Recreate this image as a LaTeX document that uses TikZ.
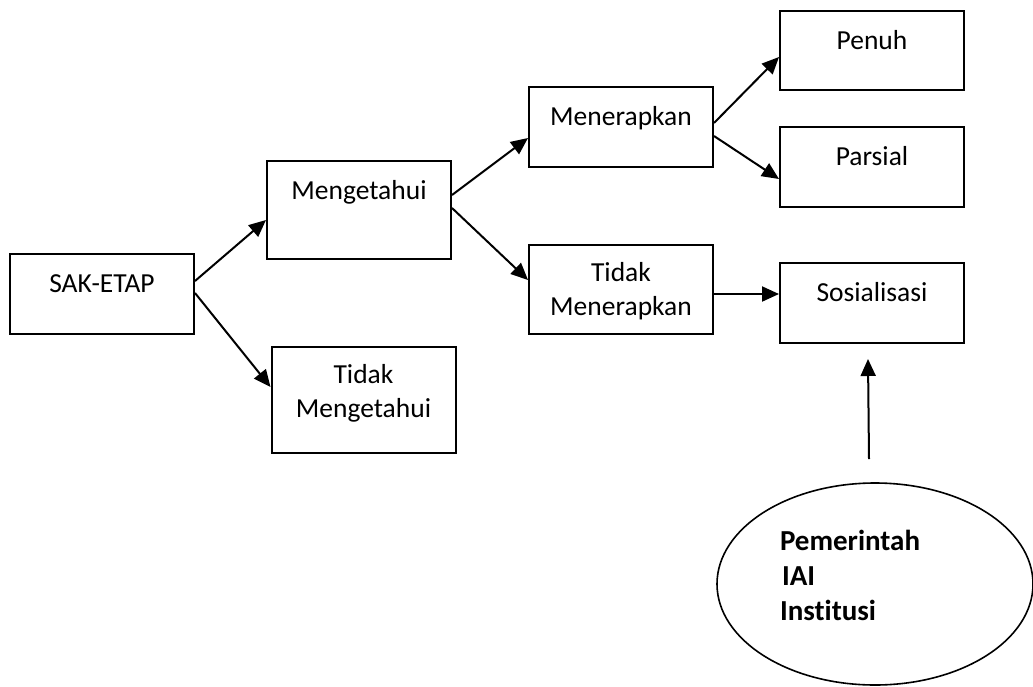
\documentclass[tikz,border=0pt]{standalone}
\usepackage{fontspec}
\setmainfont{Carlito}[Ligatures=NoCommon]
\usetikzlibrary{arrows.meta,shapes.geometric}

\tikzset{
	kotak/.style={shape=rectangle, draw=black, line width=1pt, inner sep=0pt,
		minimum width=92pt, align=center, text height=19pt, text depth=#1},
	panah/.style={-{Triangle[length=8.5pt,width=7.5pt]}, line width=1pt},
}

\begin{document}
\begin{tikzpicture}[x=0.5pt, y=-0.5pt, font=\fontsize{13.75}{17}\selectfont]
	\useasboundingbox (0,0) rectangle (1033,686);

	\node[kotak=21pt]                   (sak)     at (102,294)   {SAK-ETAP};
	\node[kotak=30pt]                   (meng)    at (359,210)   {Mengetahui};
	\node[kotak=18pt, text height=35pt] (tmeng)   at (363.5,400) {Tidak\\Mengetahui};
	\node[kotak=21pt]                   (mener)   at (621,127)   {Menerapkan};
	\node[kotak=9.5pt, text height=35pt] (tmener) at (621,289.5) {Tidak\\Menerapkan};
	\node[kotak=20.5pt]                 (penuh)   at (872,50.5)  {Penuh};
	\node[kotak=21pt]                   (parsial) at (872,167)   {Parsial};
	\node[kotak=21pt]                   (sos)     at (872,303)   {Sosialisasi};
	\node[shape=ellipse, draw=black, line width=0.8pt, inner sep=0pt,
		minimum width=158pt, minimum height=101pt, text width=95pt, align=left,
		text height=10pt, text depth=44pt,
		font=\fontsize{14.5}{17.5}\selectfont\bfseries]
		(gov) at (875,584) {Pemerintah\\\hspace{1pt}IAI\\Institusi};
	\coordinate (ekor) at (869,459);

	\path [panah] ([yshift=6.5pt]sak.east)    edge ([yshift=-5pt]meng.west);
	\path [panah] ([yshift=0.5pt]sak.east)    edge ([yshift=6.5pt]tmeng.west);
	\path [panah] ([yshift=7.5pt]meng.east)   edge ([yshift=-5.5pt]mener.west);
	\path [panah] ([yshift=1pt]meng.east)     edge ([yshift=4.75pt]tmener.west);
	\path [panah] ([yshift=2pt]mener.east)    edge ([yshift=-3.25pt]penuh.west);
	\path [panah] ([yshift=-4.5pt]mener.east) edge ([yshift=-6pt]parsial.west);
	\path [panah] ([yshift=-2.25pt]tmener.east) edge ([yshift=4.5pt]sos.west);
	\path [panah] (ekor) edge ([xshift=-2pt,yshift=-7.5pt]sos.south);
\end{tikzpicture}
\end{document}
